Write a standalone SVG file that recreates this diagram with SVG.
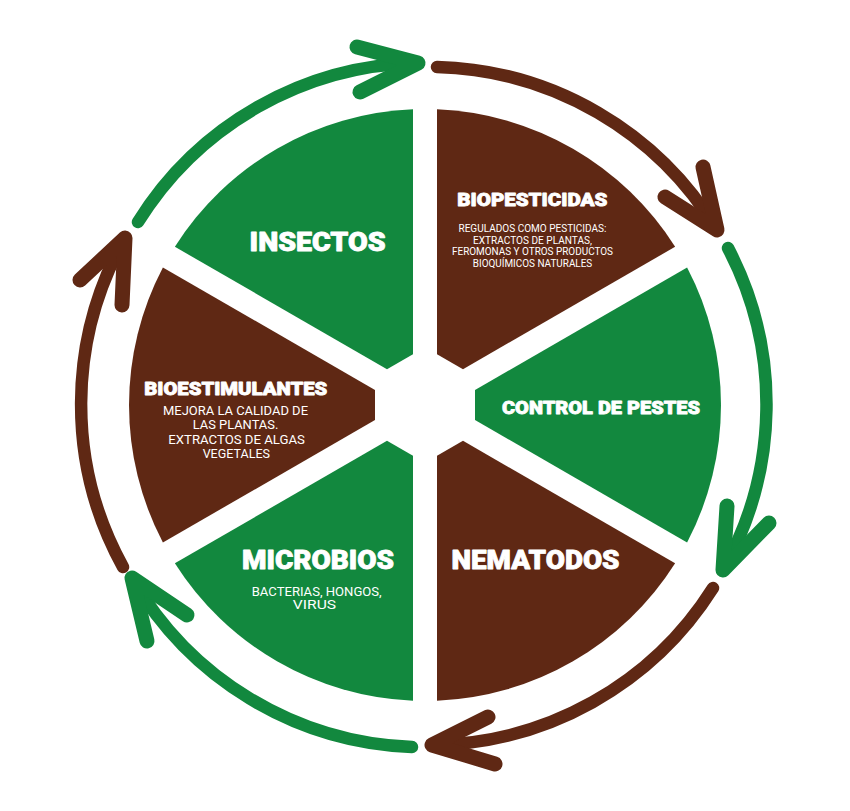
<svg xmlns="http://www.w3.org/2000/svg" xmlns:xlink="http://www.w3.org/1999/xlink" width="850" height="811" viewBox="0 0 850 811">
  <style>
    .green { fill: #12883e; }
    .brown { fill: #5f2814; }
    .title { font-family: Roboto, "Liberation Sans", sans-serif; font-weight: 900; fill: #ffffff; stroke: #ffffff; stroke-width: 0.8; stroke-linejoin: round; text-anchor: middle; }
    .sub { font-family: Roboto, "Liberation Sans", sans-serif; font-weight: 400; fill: #ffffff; text-anchor: middle; }
    .shaft { fill: none; stroke-linecap: round; stroke-width: 12.5; }
    .head { fill: none; stroke-linecap: round; stroke-linejoin: round; stroke-width: 15; }
    .g { stroke: #12883e; }
    .b { stroke: #5f2814; }
  </style>
  <defs>
    <path id="sector" d="M50,-15 L262.1,-137.5 A296,296 0 0 1 262.1,137.5 L50,15 Z"/>
  </defs>
  <rect width="850" height="811" fill="#ffffff"/>

  <g id="insectos">
    <use xlink:href="#sector" href="#sector" class="green" transform="translate(425,405) rotate(-120)"/>
    <text class="title" x="317.5" y="251" font-size="25" textLength="136" lengthAdjust="spacingAndGlyphs">INSECTOS</text>
  </g>

  <g id="biopesticidas">
    <use xlink:href="#sector" href="#sector" class="brown" transform="translate(425,405) rotate(-60)"/>
    <text class="title" x="532.3" y="205.5" font-size="17.5" textLength="150" lengthAdjust="spacingAndGlyphs">BIOPESTICIDAS</text>
    <text class="sub" x="532.5" y="232" font-size="11" textLength="148" lengthAdjust="spacingAndGlyphs">REGULADOS COMO PESTICIDAS:</text>
    <text class="sub" x="532.5" y="243.5" font-size="11" textLength="119" lengthAdjust="spacingAndGlyphs">EXTRACTOS DE PLANTAS,</text>
    <text class="sub" x="532.5" y="255" font-size="11" textLength="161" lengthAdjust="spacingAndGlyphs">FEROMONAS Y OTROS PRODUCTOS</text>
    <text class="sub" x="532.5" y="266.5" font-size="11" textLength="119.5" lengthAdjust="spacingAndGlyphs">BIOQUÍMICOS NATURALES</text>
  </g>

  <g id="control-de-pestes">
    <use xlink:href="#sector" href="#sector" class="green" transform="translate(425,405)"/>
    <text class="title" x="601" y="413.5" font-size="18.5" textLength="198" lengthAdjust="spacingAndGlyphs">CONTROL DE PESTES</text>
  </g>

  <g id="nematodos">
    <use xlink:href="#sector" href="#sector" class="brown" transform="translate(425,405) rotate(60)"/>
    <text class="title" x="535.5" y="568.5" font-size="25" textLength="168" lengthAdjust="spacingAndGlyphs">NEMATODOS</text>
  </g>

  <g id="microbios">
    <use xlink:href="#sector" href="#sector" class="green" transform="translate(425,405) rotate(120)"/>
    <text class="title" x="318" y="568.5" font-size="25" textLength="152" lengthAdjust="spacingAndGlyphs">MICROBIOS</text>
    <text class="sub" x="316.7" y="595.5" font-size="12.5" textLength="130" lengthAdjust="spacingAndGlyphs">BACTERIAS, HONGOS,</text>
    <text class="sub" x="314.5" y="609" font-size="12.5" textLength="43.3" lengthAdjust="spacingAndGlyphs">VIRUS</text>
  </g>

  <g id="bioestimulantes">
    <use xlink:href="#sector" href="#sector" class="brown" transform="translate(425,405) rotate(180)"/>
    <text class="title" x="235.7" y="395" font-size="17.5" textLength="183" lengthAdjust="spacingAndGlyphs">BIOESTIMULANTES</text>
    <text class="sub" x="235.5" y="415" font-size="13" textLength="145" lengthAdjust="spacingAndGlyphs">MEJORA LA CALIDAD DE</text>
    <text class="sub" x="235.5" y="429.3" font-size="13" textLength="85.6" lengthAdjust="spacingAndGlyphs">LAS PLANTAS.</text>
    <text class="sub" x="236.6" y="443.6" font-size="13" textLength="136.7" lengthAdjust="spacingAndGlyphs">EXTRACTOS DE ALGAS</text>
    <text class="sub" x="236.3" y="458" font-size="13" textLength="67.3" lengthAdjust="spacingAndGlyphs">VEGETALES</text>
  </g>

  <g id="connectors">
    <path class="shaft g" d="M138,222 A337,337 0 0 1 418,63"/>
    <polyline class="head g" points="357,47 418,63 360,92"/>

    <path class="shaft b" d="M437,67 A337,337 0 0 1 717,230"/>
    <polyline class="head b" points="703,167 717,230 665,197"/>

    <path class="shaft g" d="M728,248 A337,337 0 0 1 723,570"/>
    <polyline class="head g" points="727,506 723,570 769,523"/>

    <path class="shaft b" d="M713,588 A337,337 0 0 1 432,745"/>
    <polyline class="head b" points="488,717 432,745 495,764"/>

    <path class="shaft g" d="M412,747 A337,337 0 0 1 132,578"/>
    <polyline class="head g" points="147,641 132,578 187,615"/>

    <path class="shaft b" d="M123,567 A337,337 0 0 1 125,238"/>
    <polyline class="head b" points="80,280 125,238 122,305"/>
  </g>
</svg>
